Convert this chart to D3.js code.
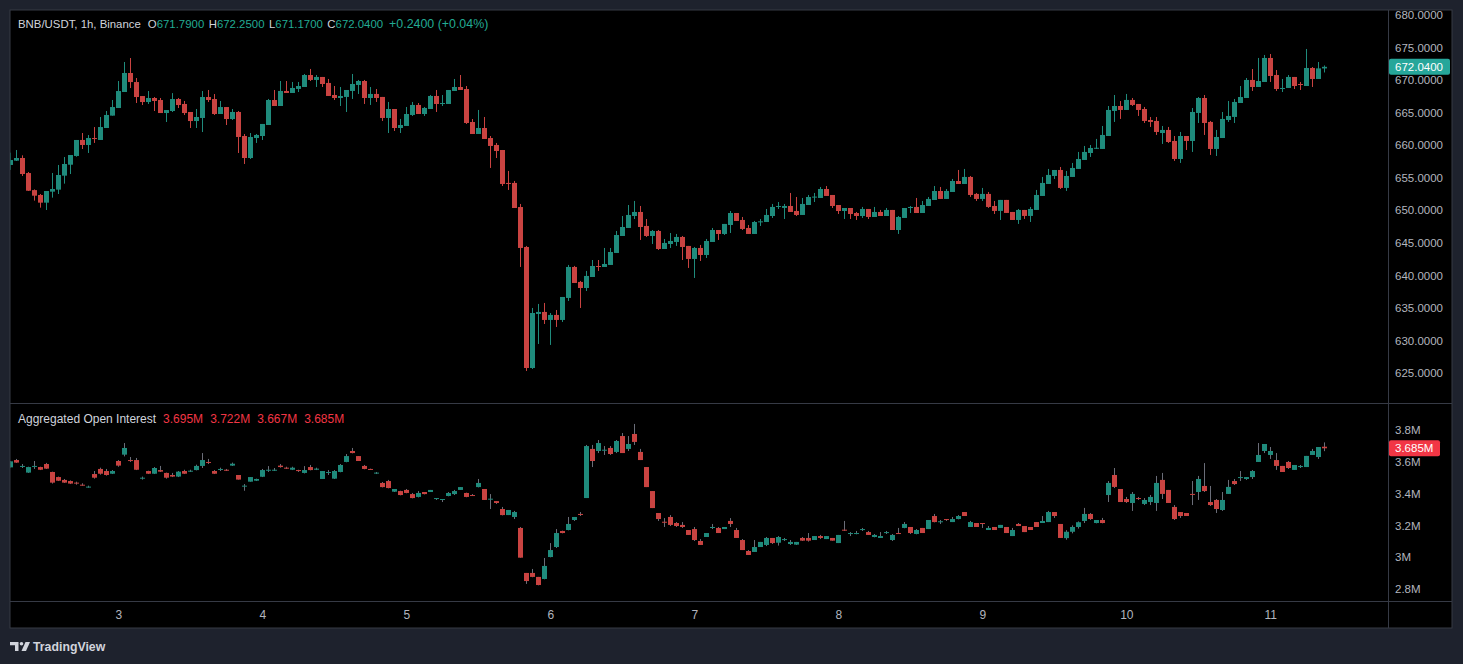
<!DOCTYPE html>
<html>
<head>
<meta charset="utf-8">
<script src="https://cdn.jsdelivr.net/npm/d3@7"></script>
<style>
  html, body { margin: 0; padding: 0; background: #1e222d; }
  svg { display: block; }
  text { font-family: "Liberation Sans", Arial, sans-serif; }
</style>
</head>
<body>
<svg id="chart" width="1463" height="664"></svg>
<script>
// ---------- DATA ----------
const symbolTitle = "BNB/USDT, 1h, Binance";
const startHour = new Date(2025, 5, 2, 6); // first candle (day 2, 06:00)
const priceTicks = [625, 630, 635, 640, 645, 650, 655, 660, 665, 670, 675, 680];
const oiTicks = [2.8, 3.0, 3.2, 3.4, 3.6, 3.8];
const oiTickLabels = ["2.8M", "3M", "3.2M", "3.4M", "3.6M", "3.8M"];

const priceOpen = [656.96,657.62,658.03,655.72,653.10,652.35,651.17,652.86,653.17,655.32,657.00,658.34,660.80,660.03,661.10,660.80,662.64,664.54,665.71,668.17,
671.09,669.70,667.55,666.63,667.25,666.94,664.94,665.25,667.09,666.33,665.10,663.71,664.18,667.40,667.09,664.79,665.86,664.02,665.10,661.41,
658.03,661.10,661.41,663.10,666.94,666.02,668.33,668.02,668.64,668.94,670.78,670.02,670.48,669.56,667.71,667.25,667.41,668.33,669.25,669.86,
667.25,667.87,667.41,664.18,665.56,662.64,662.95,664.64,666.18,664.79,665.56,667.56,666.33,666.33,668.33,668.94,668.63,663.56,661.72,662.64,
661.10,660.03,659.26,654.20,654.20,650.50,644.36,625.77,634.07,634.38,633.15,633.92,633.15,636.53,641.29,638.99,638.06,639.75,641.44,641.29,
641.60,643.44,646.05,647.28,649.12,649.74,647.59,646.05,646.82,644.05,644.82,645.13,645.90,644.52,642.52,644.21,643.13,645.13,646.97,646.36,
647.74,649.58,648.51,647.28,646.36,648.20,648.20,649.12,650.51,650.36,650.66,649.89,649.28,650.81,652.04,651.89,653.27,652.35,650.81,649.89,
650.35,649.58,649.12,650.20,648.97,649.74,649.12,650.05,646.97,648.82,650.35,650.51,649.58,650.66,651.58,652.96,651.74,652.81,654.50,654.04,
655.12,652.51,651.74,652.51,650.66,649.90,651.59,649.74,648.51,650.05,649.13,650.05,652.20,654.04,655.27,656.19,653.43,655.12,656.35,657.73,
658.80,659.57,659.42,661.41,665.26,666.02,665.41,666.95,666.33,665.56,663.87,663.72,661.87,662.34,660.65,657.88,661.41,660.65,664.95,667.25,
663.57,659.42,661.10,663.87,664.34,666.48,667.25,670.02,668.94,669.71,673.40,670.78,668.63,668.79,670.48,669.40,669.09,671.86,670.17,671.79];
const priceHigh = [658.85,659.26,658.44,655.88,653.20,652.50,652.96,655.73,656.96,658.18,658.49,660.80,661.87,661.56,662.79,664.33,665.25,666.94,669.86,672.78,
673.39,670.32,667.55,668.32,667.40,667.25,665.40,668.00,667.25,666.79,665.10,665.56,668.32,668.48,667.86,666.79,665.86,665.56,665.25,661.72,
661.87,661.72,663.26,667.10,668.48,669.86,669.86,669.71,669.71,670.94,671.71,670.78,670.48,670.17,669.09,668.94,668.48,670.94,670.02,670.02,
668.94,668.63,667.41,666.64,665.56,664.03,665.87,666.64,666.48,665.87,667.71,668.48,667.71,668.48,670.17,670.78,669.09,664.02,665.41,664.33,
661.41,660.34,659.26,656.04,654.50,650.97,644.52,634.99,635.61,635.76,634.22,634.68,636.68,641.60,641.45,639.14,640.68,642.36,642.36,644.21,
644.21,646.82,649.12,650.81,651.43,650.66,648.66,646.97,646.97,645.59,646.51,646.36,646.05,644.52,644.36,644.67,645.59,647.28,646.97,647.90,
649.89,649.58,648.97,647.74,648.36,648.66,650.20,650.97,651.27,650.97,652.66,652.04,651.89,652.35,652.66,653.58,653.73,652.35,650.81,650.35,
650.35,649.74,650.51,650.20,650.51,650.05,650.35,650.05,649.12,650.35,650.66,651.89,651.43,652.04,653.73,653.58,653.27,654.81,656.19,656.35,
655.27,652.66,653.43,652.81,651.43,651.59,651.59,649.74,650.20,650.05,650.51,653.12,655.12,656.35,656.19,656.65,656.04,657.27,658.96,659.88,
660.03,660.96,662.95,666.02,667.71,666.79,667.87,667.25,666.33,665.87,664.33,664.33,662.95,662.80,661.41,662.03,661.41,665.71,667.40,667.71,
663.72,662.34,665.10,666.79,667.10,669.09,670.32,671.70,673.40,673.86,674.01,671.55,670.17,670.78,670.48,669.71,674.78,672.01,672.78,672.25];
const priceLow = [656.20,657.57,655.27,652.96,651.48,650.40,650.04,651.94,652.50,654.09,655.57,658.23,659.41,658.80,660.34,660.80,662.64,664.54,665.71,668.17,
668.78,666.48,666.17,666.33,665.25,664.94,663.56,665.10,665.71,664.64,662.64,662.64,662.02,666.63,664.64,664.79,663.10,663.87,658.80,657.11,
657.88,660.34,660.80,663.10,666.02,666.02,668.02,668.02,668.17,668.94,669.86,668.94,668.94,667.56,666.94,666.02,665.10,667.10,667.87,666.33,
666.18,666.64,663.72,661.87,662.18,661.87,662.95,664.49,664.79,664.49,665.56,665.10,666.02,666.33,668.33,668.48,663.26,661.72,661.72,660.95,
656.50,658.03,653.73,653.12,650.35,641.29,625.31,625.62,629.46,632.53,629.31,632.07,632.84,636.07,638.83,634.99,637.60,639.75,640.68,641.29,
641.60,643.44,646.05,647.28,648.66,645.44,645.90,644.82,643.90,644.05,644.21,644.52,642.36,641.14,639.60,642.21,642.67,645.13,645.44,646.21,
646.51,648.36,646.97,646.36,646.36,647.59,648.20,648.82,650.20,648.66,649.74,649.12,649.28,650.81,651.27,651.89,652.20,650.35,649.43,648.66,
648.66,648.51,648.82,648.66,648.97,649.12,649.12,646.97,646.36,648.82,649.58,649.58,649.58,650.66,651.58,651.74,651.74,652.81,654.04,654.04,
652.05,651.43,651.43,650.36,649.43,648.51,649.59,648.51,647.90,648.67,648.20,650.05,652.20,654.04,654.81,653.27,652.97,655.12,656.35,657.73,
658.19,659.42,659.42,661.41,663.57,664.03,665.41,666.02,664.49,663.41,662.80,661.57,660.19,660.34,657.58,657.27,659.26,658.96,663.41,661.57,
658.50,658.34,661.10,663.57,663.41,666.48,667.25,668.33,668.94,669.71,669.71,668.33,668.17,668.79,668.63,668.48,669.09,668.94,670.17,671.17];
const priceClose = [657.72,658.03,655.57,653.00,652.24,651.17,652.96,653.27,655.42,657.11,658.49,660.80,660.03,661.10,660.98,662.79,664.64,665.86,668.32,671.09,
669.70,667.40,666.63,667.25,666.79,664.94,665.40,667.09,666.17,664.94,663.71,664.33,667.40,666.94,664.79,665.86,664.02,665.10,661.26,658.03,
661.26,661.57,663.26,666.94,666.02,668.33,668.02,668.79,669.09,670.78,670.02,670.48,669.40,667.56,667.25,667.56,668.48,669.40,669.86,667.25,
667.87,667.25,664.18,665.56,662.64,663.10,664.79,666.18,664.79,665.72,667.56,666.33,666.48,668.48,668.94,668.48,663.41,661.72,662.64,660.95,
659.88,659.11,654.04,654.04,650.35,644.21,625.77,634.22,634.38,633.15,633.92,633.15,636.68,641.29,638.83,638.06,639.91,641.44,641.29,641.75,
643.59,646.20,647.43,649.28,649.74,647.43,646.05,646.82,644.05,644.98,645.28,645.90,644.36,642.52,644.21,643.13,645.28,646.97,646.36,647.90,
649.58,648.36,647.13,646.36,648.20,648.30,649.28,650.51,650.66,650.66,649.74,649.28,650.97,652.04,652.10,653.27,652.20,650.66,649.89,650.35,
649.43,649.12,650.20,648.97,649.74,649.12,650.05,646.97,648.97,650.35,650.51,649.58,650.81,651.74,652.96,651.74,652.97,654.50,654.04,655.12,
652.35,651.74,652.51,650.51,649.90,651.59,649.59,648.51,650.05,649.13,650.20,652.35,654.20,655.43,656.19,653.43,655.27,656.50,657.88,658.96,
659.57,659.60,661.57,665.41,666.02,665.41,666.95,666.18,665.41,663.72,663.57,662.03,662.34,660.49,657.88,661.41,660.65,665.10,667.25,663.41,
659.42,661.26,664.03,664.49,666.64,667.40,670.02,668.94,669.86,673.40,670.63,668.63,668.79,670.48,669.09,669.25,671.86,670.17,671.80,672.04];

const oiOpen = [3.565,3.611,3.569,3.532,3.569,3.567,3.586,3.536,3.504,3.486,3.479,3.469,3.456,3.439,3.523,3.555,3.542,3.525,3.605,3.645,
3.611,3.611,3.496,3.542,3.525,3.548,3.530,3.517,3.507,3.542,3.538,3.548,3.574,3.599,3.542,3.550,3.550,3.576,3.517,3.446,
3.475,3.481,3.506,3.546,3.544,3.576,3.563,3.550,3.548,3.530,3.567,3.550,3.492,3.530,3.494,3.536,3.599,3.668,3.636,3.574,
3.555,3.527,3.467,3.479,3.412,3.416,3.423,3.397,3.379,3.410,3.410,3.368,3.364,3.385,3.397,3.423,3.404,3.391,3.441,3.429,
3.364,3.353,3.303,3.265,3.253,3.184,2.901,2.901,2.876,2.863,3.001,3.064,3.165,3.171,3.234,3.272,3.372,3.681,3.668,3.672,
3.687,3.662,3.762,3.681,3.775,3.662,3.567,3.416,3.278,3.223,3.253,3.215,3.203,3.171,3.177,3.102,3.127,3.184,3.184,3.177,
3.228,3.171,3.108,3.039,3.033,3.064,3.077,3.121,3.091,3.108,3.083,3.079,3.121,3.121,3.108,3.133,3.114,3.121,3.089,3.173,
3.146,3.146,3.173,3.158,3.127,3.121,3.154,3.108,3.152,3.184,3.190,3.146,3.184,3.177,3.259,3.221,3.240,3.221,3.240,3.284,
3.190,3.215,3.215,3.171,3.190,3.184,3.190,3.133,3.209,3.196,3.190,3.221,3.215,3.221,3.284,3.209,3.120,3.160,3.190,3.228,
3.272,3.215,3.234,3.391,3.517,3.429,3.366,3.341,3.372,3.335,3.347,3.341,3.486,3.423,3.316,3.284,3.278,3.398,3.410,3.448,
3.347,3.360,3.297,3.398,3.479,3.498,3.492,3.504,3.599,3.668,3.643,3.611,3.574,3.599,3.549,3.567,3.567,3.643,3.630,3.695];
const oiHigh = [3.605,3.618,3.586,3.569,3.605,3.569,3.593,3.538,3.507,3.492,3.483,3.475,3.465,3.450,3.542,3.563,3.555,3.548,3.611,3.718,
3.630,3.624,3.507,3.544,3.567,3.574,3.532,3.530,3.542,3.550,3.550,3.582,3.655,3.618,3.548,3.563,3.555,3.595,3.517,3.460,
3.504,3.494,3.555,3.573,3.561,3.586,3.569,3.569,3.550,3.573,3.580,3.563,3.542,3.548,3.548,3.586,3.649,3.687,3.636,3.580,
3.557,3.536,3.473,3.486,3.429,3.418,3.429,3.404,3.416,3.410,3.423,3.372,3.366,3.410,3.423,3.441,3.406,3.397,3.492,3.429,
3.397,3.353,3.316,3.297,3.291,3.190,2.901,2.926,2.876,2.995,3.089,3.177,3.167,3.253,3.253,3.284,3.706,3.706,3.737,3.699,
3.699,3.737,3.781,3.762,3.838,3.681,3.567,3.416,3.278,3.246,3.265,3.221,3.221,3.171,3.190,3.114,3.152,3.209,3.190,3.190,
3.246,3.184,3.114,3.045,3.108,3.096,3.127,3.121,3.133,3.121,3.108,3.096,3.127,3.152,3.133,3.140,3.133,3.121,3.140,3.228,
3.158,3.165,3.184,3.165,3.146,3.158,3.165,3.146,3.184,3.221,3.190,3.177,3.184,3.234,3.272,3.234,3.240,3.253,3.265,3.284,
3.228,3.215,3.215,3.196,3.190,3.203,3.190,3.184,3.215,3.196,3.190,3.221,3.259,3.291,3.284,3.209,3.170,3.200,3.225,3.310,
3.278,3.234,3.247,3.479,3.561,3.429,3.379,3.410,3.379,3.372,3.391,3.511,3.530,3.423,3.328,3.284,3.278,3.479,3.511,3.592,
3.448,3.366,3.410,3.486,3.492,3.542,3.504,3.548,3.718,3.712,3.693,3.655,3.574,3.605,3.580,3.580,3.637,3.681,3.693,3.722];
const oiLow = [3.563,3.593,3.561,3.530,3.555,3.548,3.555,3.463,3.479,3.467,3.460,3.456,3.450,3.437,3.494,3.519,3.513,3.523,3.569,3.634,
3.599,3.548,3.488,3.523,3.523,3.536,3.494,3.504,3.504,3.523,3.536,3.546,3.561,3.586,3.523,3.542,3.542,3.574,3.488,3.418,
3.475,3.479,3.504,3.536,3.542,3.563,3.555,3.548,3.536,3.527,3.546,3.548,3.492,3.517,3.492,3.534,3.597,3.653,3.605,3.553,
3.549,3.523,3.439,3.433,3.410,3.389,3.402,3.370,3.376,3.395,3.410,3.360,3.347,3.383,3.391,3.423,3.377,3.385,3.439,3.360,
3.303,3.335,3.263,3.265,3.240,2.997,2.832,2.874,2.823,2.861,2.999,3.058,3.150,3.169,3.228,3.259,3.372,3.567,3.655,3.643,
3.643,3.655,3.655,3.668,3.706,3.611,3.441,3.309,3.228,3.190,3.196,3.190,3.184,3.140,3.102,3.077,3.127,3.177,3.152,3.177,
3.190,3.121,3.045,3.014,3.033,3.064,3.070,3.083,3.073,3.102,3.077,3.077,3.102,3.098,3.108,3.114,3.114,3.104,3.089,3.165,
3.133,3.144,3.165,3.140,3.125,3.121,3.146,3.102,3.146,3.182,3.146,3.144,3.152,3.177,3.219,3.209,3.228,3.221,3.238,3.259,
3.190,3.190,3.184,3.171,3.171,3.184,3.152,3.133,3.196,3.158,3.171,3.190,3.215,3.221,3.247,3.121,3.110,3.150,3.180,3.215,
3.234,3.213,3.213,3.347,3.435,3.347,3.341,3.291,3.360,3.328,3.328,3.291,3.366,3.341,3.234,3.247,3.259,3.328,3.360,3.410,
3.322,3.278,3.291,3.398,3.454,3.479,3.486,3.492,3.599,3.655,3.618,3.549,3.536,3.555,3.549,3.561,3.567,3.643,3.618,3.667];
const oiClose = [3.603,3.595,3.574,3.567,3.574,3.550,3.557,3.469,3.481,3.469,3.463,3.465,3.452,3.444,3.500,3.525,3.517,3.542,3.576,3.687,
3.605,3.550,3.500,3.525,3.561,3.538,3.500,3.507,3.538,3.525,3.544,3.574,3.611,3.593,3.525,3.555,3.544,3.588,3.488,3.450,
3.504,3.492,3.548,3.550,3.550,3.567,3.557,3.563,3.542,3.548,3.548,3.557,3.542,3.536,3.542,3.580,3.636,3.655,3.605,3.555,
3.551,3.532,3.441,3.435,3.429,3.391,3.404,3.372,3.404,3.397,3.423,3.372,3.366,3.404,3.416,3.441,3.379,3.387,3.467,3.360,
3.368,3.341,3.265,3.297,3.284,2.997,2.850,2.876,2.825,2.945,3.045,3.152,3.152,3.209,3.253,3.268,3.699,3.605,3.718,3.676,
3.649,3.731,3.655,3.712,3.725,3.611,3.441,3.309,3.240,3.219,3.203,3.196,3.190,3.140,3.108,3.077,3.152,3.190,3.152,3.190,
3.209,3.121,3.045,3.014,3.064,3.096,3.121,3.089,3.127,3.114,3.096,3.096,3.104,3.104,3.133,3.121,3.133,3.104,3.140,3.169,
3.152,3.152,3.177,3.140,3.140,3.133,3.158,3.140,3.146,3.209,3.152,3.171,3.152,3.234,3.221,3.226,3.234,3.240,3.259,3.259,
3.221,3.190,3.209,3.184,3.171,3.203,3.152,3.171,3.196,3.158,3.171,3.190,3.228,3.284,3.259,3.121,3.160,3.190,3.220,3.272,
3.240,3.234,3.215,3.467,3.442,3.347,3.347,3.398,3.366,3.360,3.379,3.467,3.398,3.341,3.240,3.259,3.259,3.393,3.492,3.416,
3.328,3.303,3.360,3.442,3.460,3.504,3.504,3.542,3.643,3.712,3.668,3.574,3.536,3.561,3.580,3.574,3.637,3.668,3.693,3.685];

// ---------- LAYOUT / STYLE ----------
const W = 1463, H = 664;
const frame = {l: 10, t: 10, r: 1452, b: 628};
const axisX = 1388;          // right price-axis separator
const paneSplit = 403;       // between price and OI panes
const timeAxisTop = 601;
const upColor = "#1f8b7c", downColor = "#c94341";
const lineColor = "#363a45";
const axisText = "#b2b5be";

const svg = d3.select("#chart");

// background
svg.append("rect").attr("width", W).attr("height", H).attr("fill", "#1e222d");
svg.append("rect").attr("x", frame.l).attr("y", frame.t)
  .attr("width", frame.r - frame.l).attr("height", frame.b - frame.t)
  .attr("fill", "#000").attr("stroke", lineColor).attr("stroke-width", 1);

// scales
const times = priceClose.map((_, i) => d3.timeHour.offset(startHour, i));
const x = d3.scaleTime()
  .domain([times[0], times[times.length - 1]])
  .range([10.3, 1324.3]);
const yP = d3.scaleLinear().domain([625, 680]).range([373, 15]);
const yO = d3.scaleLinear().domain([2.8, 3.8]).range([589, 430]);

// clip paths
const defs = svg.append("defs");
defs.append("clipPath").attr("id", "clipP").append("rect")
  .attr("x", frame.l + 0.5).attr("y", frame.t).attr("width", axisX - frame.l - 0.5).attr("height", paneSplit - frame.t);
defs.append("clipPath").attr("id", "clipO").append("rect")
  .attr("x", frame.l + 0.5).attr("y", paneSplit).attr("width", axisX - frame.l - 0.5).attr("height", timeAxisTop - paneSplit);

// separator lines
svg.append("line").attr("x1", frame.l).attr("x2", frame.r).attr("y1", paneSplit + 0.5).attr("y2", paneSplit + 0.5).attr("stroke", lineColor);
svg.append("line").attr("x1", frame.l).attr("x2", frame.r).attr("y1", timeAxisTop + 0.5).attr("y2", timeAxisTop + 0.5).attr("stroke", lineColor);
svg.append("line").attr("x1", axisX + 0.5).attr("x2", axisX + 0.5).attr("y1", frame.t).attr("y2", frame.b).attr("stroke", lineColor);

// candle drawer
const bodyW = 5;
function drawCandles(g, O, Hh, L, C, y, wickColorFn) {
  const data = times.map((t, i) => ({t, o: O[i], h: Hh[i], l: L[i], c: C[i]}));
  const cg = g.selectAll("g.c").data(data).join("g").attr("class", "c");
  cg.append("line")
    .attr("x1", d => Math.round(x(d.t)) + 0.5).attr("x2", d => Math.round(x(d.t)) + 0.5)
    .attr("y1", d => y(d.h)).attr("y2", d => y(d.l))
    .attr("stroke", d => wickColorFn(d)).attr("stroke-width", 1);
  cg.append("rect")
    .attr("x", d => Math.round(x(d.t)) + 0.5 - bodyW / 2)
    .attr("width", bodyW)
    .attr("y", d => y(Math.max(d.o, d.c)))
    .attr("height", d => Math.max(1, Math.abs(y(d.o) - y(d.c))))
    .attr("fill", d => d.c >= d.o ? upColor : downColor);
}

const gP = svg.append("g").attr("clip-path", "url(#clipP)");
drawCandles(gP, priceOpen, priceHigh, priceLow, priceClose, yP, d => d.c >= d.o ? upColor : downColor);
const gO = svg.append("g").attr("clip-path", "url(#clipO)");
drawCandles(gO, oiOpen, oiHigh, oiLow, oiClose, yO, () => "#6a6d78");

// right axes
const axP = d3.axisRight(yP).tickValues(priceTicks).tickSize(0).tickPadding(7)
  .tickFormat(d => d3.format(".4f")(d));
const gAxP = svg.append("g").attr("transform", `translate(${axisX},0)`).call(axP);
const axO = d3.axisRight(yO).tickValues(oiTicks).tickSize(0).tickPadding(7)
  .tickFormat((d, i) => oiTickLabels[i]);
const gAxO = svg.append("g").attr("transform", `translate(${axisX},0)`).call(axO);
[gAxP, gAxO].forEach(g => {
  g.select(".domain").remove();
  g.selectAll("text").attr("fill", axisText).attr("font-size", 11.5)
    .attr("font-family", '"Liberation Sans", Arial, sans-serif');
});

// time axis
const axT = d3.axisBottom(x).ticks(d3.timeDay.every(1)).tickSize(0).tickPadding(0)
  .tickFormat(d3.timeFormat("%-d"));
const gAxT = svg.append("g").attr("transform", `translate(0,${timeAxisTop})`).call(axT);
gAxT.select(".domain").remove();
gAxT.selectAll("text").attr("fill", axisText).attr("font-size", 12).attr("dy", "17.5")
  .attr("font-family", '"Liberation Sans", Arial, sans-serif');

// last value labels
const lastI = priceClose.length - 1;
const lastP = priceClose[lastI];
svg.append("rect").attr("x", axisX + 1).attr("y", yP(lastP) - 8).attr("width", 61).attr("height", 16)
  .attr("rx", 2).attr("fill", "#26a69a");
svg.append("text").attr("x", axisX + 7).attr("y", yP(lastP) + 4).attr("fill", "#fff")
  .attr("font-size", 11.5).text(d3.format(".4f")(lastP));
const lastO = oiClose[lastI];
svg.append("rect").attr("x", axisX + 1).attr("y", yO(lastO) - 8).attr("width", 51).attr("height", 16)
  .attr("rx", 2).attr("fill", "#f23645");
svg.append("text").attr("x", axisX + 7).attr("y", yO(lastO) + 4).attr("fill", "#fff")
  .attr("font-size", 11.5).text(d3.format(".3f")(lastO) + "M");

// legend: price
const legFont = 11.4;
const legP = svg.append("text").attr("x", 18).attr("y", 28).attr("font-size", legFont).attr("fill", "#d1d4dc");
legP.append("tspan").text(symbolTitle);
const pUp = priceClose[lastI] >= priceOpen[lastI] ? "#22ab94" : "#f23645";
const fmt4 = d3.format(".4f");
[["O", priceOpen[lastI]], ["H", priceHigh[lastI]], ["L", priceLow[lastI]], ["C", priceClose[lastI]]].forEach((p, i) => {
  legP.append("tspan").attr("dx", i === 0 ? 7 : 4.5).attr("fill", "#d1d4dc").text(p[0]);
  legP.append("tspan").attr("fill", pUp).text(fmt4(p[1]));
});
const prevClose = priceClose[lastI - 1];
const chg = priceClose[lastI] - prevClose;
legP.append("tspan").attr("dx", 6).attr("fill", pUp).attr("font-size", 12.4)
  .text((chg >= 0 ? "+" : "") + fmt4(chg) + " (" + (chg >= 0 ? "+" : "") + d3.format(".2f")(chg / prevClose * 100) + "%)");

// legend: OI
const legO = svg.append("text").attr("x", 18).attr("y", 423).attr("font-size", 12).attr("fill", "#d1d4dc");
legO.append("tspan").text("Aggregated Open Interest");
const oCol = oiClose[lastI] >= oiOpen[lastI] ? "#22ab94" : "#f23645";
[oiOpen[lastI], oiHigh[lastI], oiLow[lastI], oiClose[lastI]].forEach((v, i) => {
  legO.append("tspan").attr("dx", i === 0 ? 7 : 7).attr("fill", oCol).text(d3.format(".3f")(v) + "M");
});

// TradingView logo
const logo = svg.append("g").attr("fill", "#d1d4dc");
logo.append("path").attr("d", "M10 642 H18.5 V651 H15 V645.2 H10 Z");
logo.append("circle").attr("cx", 21.5).attr("cy", 643.8).attr("r", 1.8);
logo.append("path").attr("d", "M25.5 642 H30 L26 651 H21.5 Z");
svg.append("text").attr("x", 33).attr("y", 651).attr("font-size", 12.3).attr("font-weight", 600)
  .attr("fill", "#d1d4dc").text("TradingView");
</script>
</body>
</html>
